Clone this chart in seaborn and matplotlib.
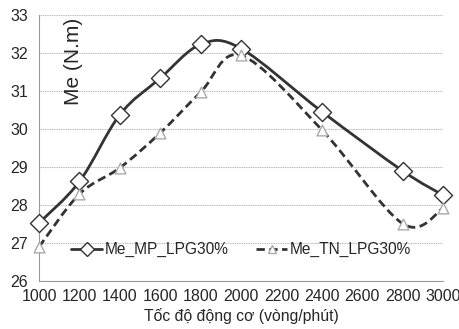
import numpy as np
import pandas as pd
import seaborn as sns
import matplotlib.pyplot as plt
from matplotlib.path import Path
from matplotlib.patches import PathPatch
from matplotlib.lines import Line2D

rpm = [1000, 1200, 1400, 1600, 1800, 2000, 2400, 2800, 3000]
me_mp = [27.53, 28.62, 30.38, 31.34, 32.23, 32.12, 30.46, 28.90, 28.26]
me_tn = [26.90, 28.29, 28.98, 29.90, 30.97, 31.94, 29.98, 27.51, 27.91]
xticks = list(range(1000, 3001, 200))
yticks = list(range(26, 34))


def smooth_path(xs, ys):
    # Excel style smoothed line: cubic Bezier segments through the points
    p = np.column_stack([xs, ys]).astype(float)
    verts = [p[0]]
    codes = [Path.MOVETO]
    n = len(p)
    for i in range(n - 1):
        p0 = p[i - 1] if i > 0 else p[i]
        p3 = p[i + 2] if i + 2 < n else p[i + 1]
        c1 = p[i] + (p[i + 1] - p0) / 6
        c2 = p[i + 1] - (p3 - p[i]) / 6
        verts += [c1, c2, p[i + 1]]
        codes += [Path.CURVE4] * 3
    return Path(verts, codes)


sns.set_style('white')
plt.rcParams['font.family'] = ['Liberation Sans', 'DejaVu Sans']

fig = plt.figure(figsize=(4.6, 3.29), dpi=100)
ax = fig.add_axes([0.085, 0.146, 0.878, 0.808])

df = pd.DataFrame({'rpm': rpm, 'mp': me_mp, 'tn': me_tn})

ax.add_patch(PathPatch(smooth_path(rpm, me_mp), fill=False, edgecolor='#333333',
                       lw=2.0, zorder=2, clip_on=False))
ax.add_patch(PathPatch(smooth_path(rpm, me_tn), fill=False, edgecolor='#333333',
                       lw=2.0, linestyle=(0, (3, 1.6)), zorder=2, clip_on=False))

sns.scatterplot(data=df, x='rpm', y='mp', marker='D', s=85, color='white',
                edgecolor='#333333', linewidth=1.0, zorder=3, ax=ax, clip_on=False)
sns.scatterplot(data=df, x='rpm', y='tn', marker='^', s=60, color='white',
                edgecolor='#aaaaaa', linewidth=1.0, zorder=3, ax=ax, clip_on=False)

ax.set_xlim(1000, 3000)
ax.set_ylim(26, 33)
ax.set_xticks(xticks)
ax.set_yticks(yticks)
ax.tick_params(axis='x', labelsize=11.5, length=4, color='#999999', pad=2)
ax.tick_params(axis='y', labelsize=11.5, length=5, color='#999999', pad=3)
ax.grid(axis='y', color='#bbbbbb', lw=0.8, linestyle=(0, (1, 0.6)))
for s in ['top', 'right']:
    ax.spines[s].set_visible(False)
for s in ['left', 'bottom']:
    ax.spines[s].set_color('#999999')
    ax.spines[s].set_linewidth(0.8)

ax.set_xlabel('Tốc độ động cơ (vòng/phút)', fontsize=11.3, labelpad=3)
ax.set_ylabel('')
ax.text(0.085, 0.826, 'Me (N.m)', transform=ax.transAxes, rotation=90,
        fontsize=15, ha='center', va='center')

handles = [
    Line2D([], [], color='#333333', lw=2.0, marker='D', markersize=7,
           markerfacecolor='white', markeredgecolor='#333333'),
    Line2D([], [], color='#333333', lw=2.0, linestyle=(0, (3, 1.6)), marker='^',
           markersize=6, markerfacecolor='white', markeredgecolor='#aaaaaa'),
]
ax.legend(handles, ['Me_MP_LPG30%', 'Me_TN_LPG30%'], loc='center',
          bbox_to_anchor=(0.5, 0.117), ncol=2, frameon=False, fontsize=11.2,
          handlelength=2.0, handletextpad=0.15, columnspacing=1.8)

fig.savefig('out.png', dpi=100)
